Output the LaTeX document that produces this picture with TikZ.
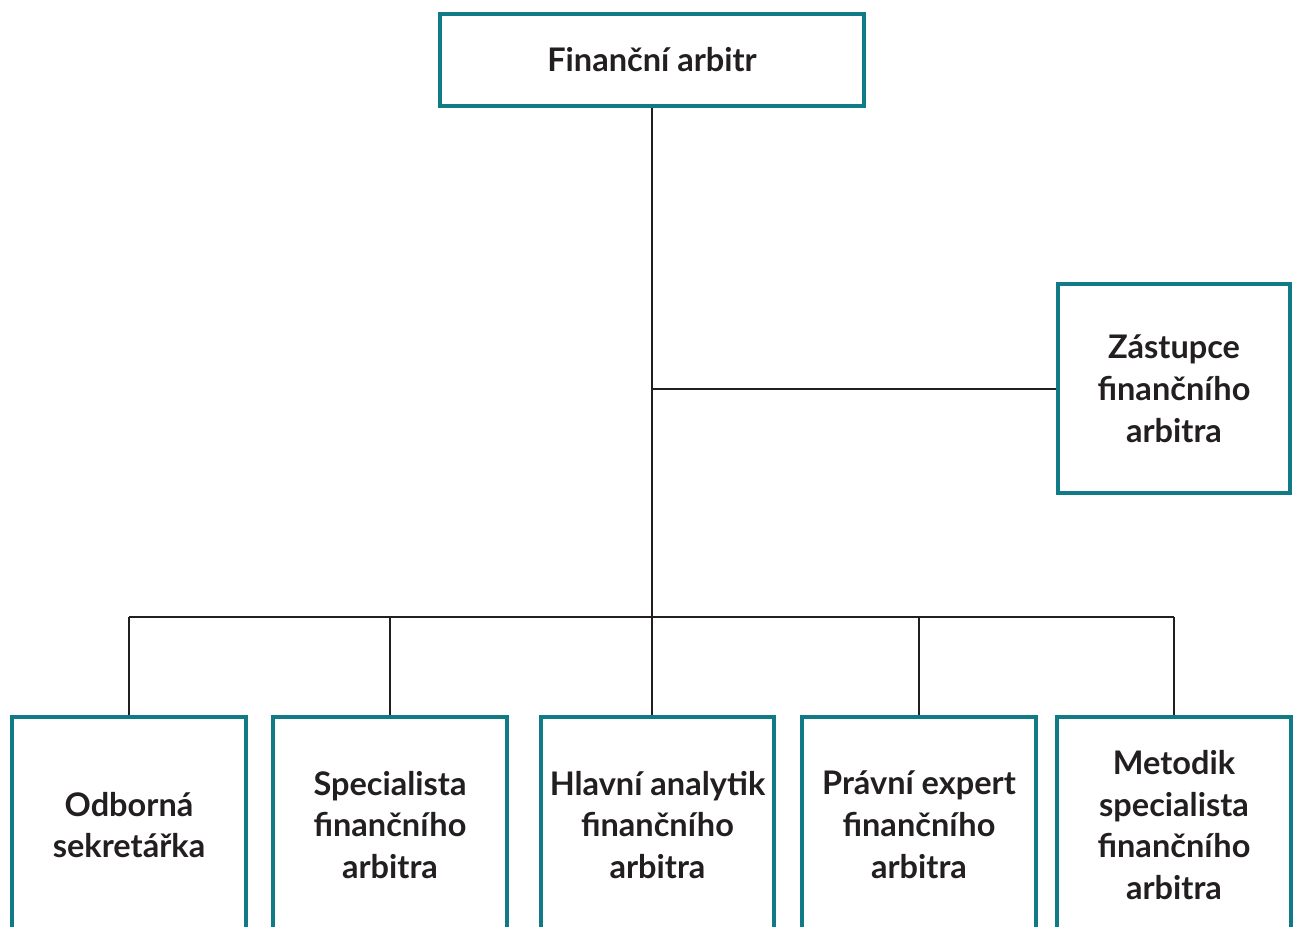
\documentclass[tikz,border=0pt]{standalone}
\usepackage{fontspec}
\setmainfont{Lato}
\usetikzlibrary{positioning}
\definecolor{orgteal}{RGB}{16,122,135}
\definecolor{orgline}{RGB}{35,31,32}

\begin{document}
\begin{tikzpicture}[x=0.02cm,y=-0.02cm,
 box/.style={draw=orgteal,line width=0.08cm,fill=white,align=center,
 inner sep=2pt,font=\fontsize{18.5}{23.8}\selectfont\bfseries,text=orgline},
 boxlow/.style={box,minimum width=4.68cm,minimum height=4.32cm},
 link/.style={draw=orgline,line width=0.04cm}]
 \useasboundingbox (0,0) rectangle (1293,926);
 \clip (0,0) rectangle (1293,926);

 \node[box,minimum width=8.48cm,minimum height=1.84cm] (arb) at (652,60) {Finanční arbitr};
 \node[box,minimum width=4.64cm,minimum height=4.18cm] (zast) at (1174,388.5)
 {Zástupce\\finančního\\arbitra};

 \node[boxlow] (s1) at (129,825) {Odborná\\sekretářka};
 \node[boxlow] (s2) at (390,825) {Specialista\\finančního\\arbitra};
 \node[boxlow] (s3) at (657.5,825) {Hlavní analytik\\finančního\\arbitra};
 \node[boxlow] (s4) at (919,825) {Právní expert\\finančního\\arbitra};
 \node[boxlow] (s5) at (1174,825) {Metodik\\specialista\\finančního\\arbitra};

 \coordinate (bus) at (652,617);

 \draw[link] (arb.south) -- (arb.south |- s3.north);
 \draw[link] (arb.south |- zast.west) -- (zast.west);
 \draw[link] (s1.north |- bus) -- (s5.north |- bus);
 \foreach \X in {1,2,4,5} {
 \draw[link] (s\X.north |- bus) -- (s\X.north);
 }

\end{tikzpicture}
\end{document}
